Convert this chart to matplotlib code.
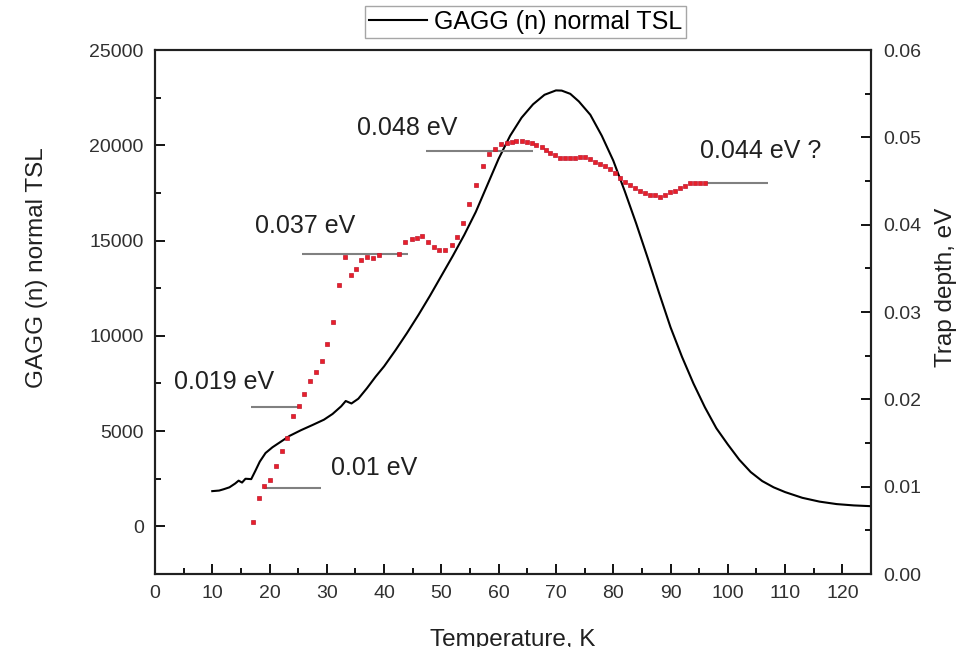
import matplotlib
matplotlib.use('Agg')
import matplotlib.pyplot as plt
from matplotlib.ticker import MultipleLocator

plt.rcParams['font.family'] = ['Liberation Sans', 'DejaVu Sans']

# TSL glow curve (left axis)
tsl_temp = [10, 11.2, 12, 13, 14, 14.6, 15.2, 15.8, 16.8, 17.5, 18.3, 19.3, 20.5, 22, 23.5,
            25.5, 27.5, 29.5, 31, 32.5, 33.3, 34.3, 35.5, 37, 38.5, 40, 42, 44, 46, 48,
            50, 52, 54, 56, 58, 60, 62, 64, 66, 68, 70, 71, 72.5, 74, 76, 78, 80, 82,
            84, 86, 88, 90, 92, 94, 96, 98, 100, 102, 104, 106, 108, 110, 113, 116, 119,
            122, 125]
tsl_counts = [1850, 1880, 1950, 2050, 2250, 2400, 2300, 2500, 2480, 2900, 3400, 3850, 4150,
              4450, 4750, 5050, 5320, 5600, 5900, 6300, 6580, 6450, 6700, 7250, 7850, 8400,
              9250, 10150, 11100, 12100, 13150, 14200, 15300, 16500, 17900, 19300, 20500,
              21450, 22150, 22650, 22880, 22870, 22700, 22300, 21600, 20500, 19200, 17600,
              15900, 14100, 12250, 10450, 8900, 7500, 6250, 5150, 4300, 3500, 2850, 2380,
              2050, 1800, 1500, 1300, 1170, 1100, 1060]

# trap depth points (right axis)
trap_temp = [17.1, 18.1, 19.1, 20.1, 21.1, 22.1, 23.0, 24.1, 25.1, 26.1, 27.1, 28.1, 29.1,
             30.0, 31.1, 32.1, 33.1, 34.2, 35.1, 36.0, 37.1, 38.1, 39.1, 42.6, 43.7, 44.8,
             45.8, 46.7, 47.7, 48.7, 49.6, 50.7, 51.8, 52.8, 53.8, 54.9, 56.0, 57.2, 58.3,
             59.4, 60.4, 61.4, 62.3, 63.1, 64.0, 64.9, 65.8, 66.6, 67.5, 68.3, 69.0, 69.8,
             70.7, 71.6, 72.5, 73.3, 74.2, 75.1, 76.0, 76.8, 77.7, 78.6, 79.5, 80.3, 81.2,
             82.1, 83.0, 83.8, 84.7, 85.6, 86.4, 87.3, 88.2, 89.1, 89.9, 90.8, 91.7, 92.6,
             93.4, 94.3, 95.2, 96.1]
trap_depth = [0.0059, 0.0087, 0.0101, 0.0108, 0.0124, 0.0141, 0.0156, 0.0181, 0.0192, 0.0206,
              0.0221, 0.0231, 0.0244, 0.0263, 0.0288, 0.0331, 0.0363, 0.0342, 0.0349, 0.0360,
              0.0363, 0.0362, 0.0365, 0.0366, 0.0380, 0.0384, 0.0385, 0.0387, 0.0380, 0.0374,
              0.0371, 0.0371, 0.0377, 0.0386, 0.0402, 0.0424, 0.0446, 0.0467, 0.0481, 0.0487,
              0.0492, 0.0494, 0.0495, 0.0496, 0.0496, 0.0495, 0.0493, 0.0491, 0.0489, 0.0486,
              0.0482, 0.0480, 0.0476, 0.0476, 0.0476, 0.0476, 0.0477, 0.0477, 0.0475, 0.0472,
              0.0470, 0.0467, 0.0464, 0.0459, 0.0453, 0.0449, 0.0446, 0.0442, 0.0438, 0.0436,
              0.0434, 0.0434, 0.0432, 0.0434, 0.0437, 0.0439, 0.0442, 0.0444, 0.0448, 0.0448,
              0.0448, 0.0448]

# trap level markers and their labels
level_depth = [0.0099, 0.0191, 0.0367, 0.0484, 0.0448]
level_start = [19.1, 16.8, 25.6, 47.4, 96.0]
level_end = [29.0, 25.1, 44.2, 66.0, 107.1]
level_text = ['0.01 eV', '0.019 eV', '0.037 eV', '0.048 eV', '0.044 eV ?']
text_temp = [30.8, 3.4, 17.4, 35.2, 95.2]
text_depth = [0.0121, 0.0220, 0.0398, 0.0511, 0.0484]

fig = plt.figure(figsize=(9.79, 6.47), dpi=100)
ax = fig.add_axes([0.1583, 0.1128, 0.7314, 0.8099])
ax2 = ax.twinx()

ax.plot(tsl_temp, tsl_counts, color='black', lw=1.5, label='GAGG (n) normal TSL')

for d, s, e in zip(level_depth, level_start, level_end):
    ax2.hlines(d, s, e, color='#808080', lw=1.5, zorder=1)
ax2.plot(trap_temp, trap_depth, 's', color='#e8202a', ms=2.8, mec='#c01830', mew=0.5, zorder=3)
for t, x, y in zip(level_text, text_temp, text_depth):
    ax2.text(x, y, t, fontsize=18, color='#202020', ha='left', va='center')

ax.set_xlim(0, 125)
ax.set_ylim(-2500, 25000)
ax2.set_ylim(0, 0.06)

ax.xaxis.set_major_locator(MultipleLocator(10))
ax.xaxis.set_minor_locator(MultipleLocator(5))
ax.yaxis.set_major_locator(MultipleLocator(5000))
ax.yaxis.set_minor_locator(MultipleLocator(2500))
ax2.yaxis.set_major_locator(MultipleLocator(0.01))
ax2.yaxis.set_minor_locator(MultipleLocator(0.005))
ax2.yaxis.set_major_formatter(matplotlib.ticker.FormatStrFormatter('%.2f'))

for a in (ax, ax2):
    for sp in a.spines.values():
        sp.set_linewidth(1.5)
        sp.set_color('#202020')
ax.tick_params(which='both', direction='in', top=False, right=False, labelsize=14,
               labelcolor='#303030', width=1.3)
ax.tick_params(which='major', length=7, pad=8)
ax.tick_params(which='minor', length=4)
ax2.tick_params(which='both', direction='in', labelsize=14, labelcolor='#303030', width=1.3)
ax2.tick_params(which='major', length=7, pad=9)
ax2.tick_params(which='minor', length=4)

ax.set_xlabel('Temperature, K', fontsize=17.5, color='#202020', labelpad=19)
ax.set_ylabel('GAGG (n) normal TSL', fontsize=17.5, color='#202020')
ax.yaxis.set_label_coords(-0.15, 0.584)
ax2.set_ylabel('Trap depth, eV', fontsize=17.5, color='#202020')
ax2.yaxis.set_label_coords(1.09, 0.547)

leg = fig.legend(loc='upper center', bbox_to_anchor=(0.537, 0.99), fontsize=18,
                 frameon=True, fancybox=False, edgecolor='#909090', handlelength=2.3,
                 borderpad=0.15, handletextpad=0.3, borderaxespad=0)
leg.get_frame().set_linewidth(1.0)

fig.savefig('out.png', dpi=100)
